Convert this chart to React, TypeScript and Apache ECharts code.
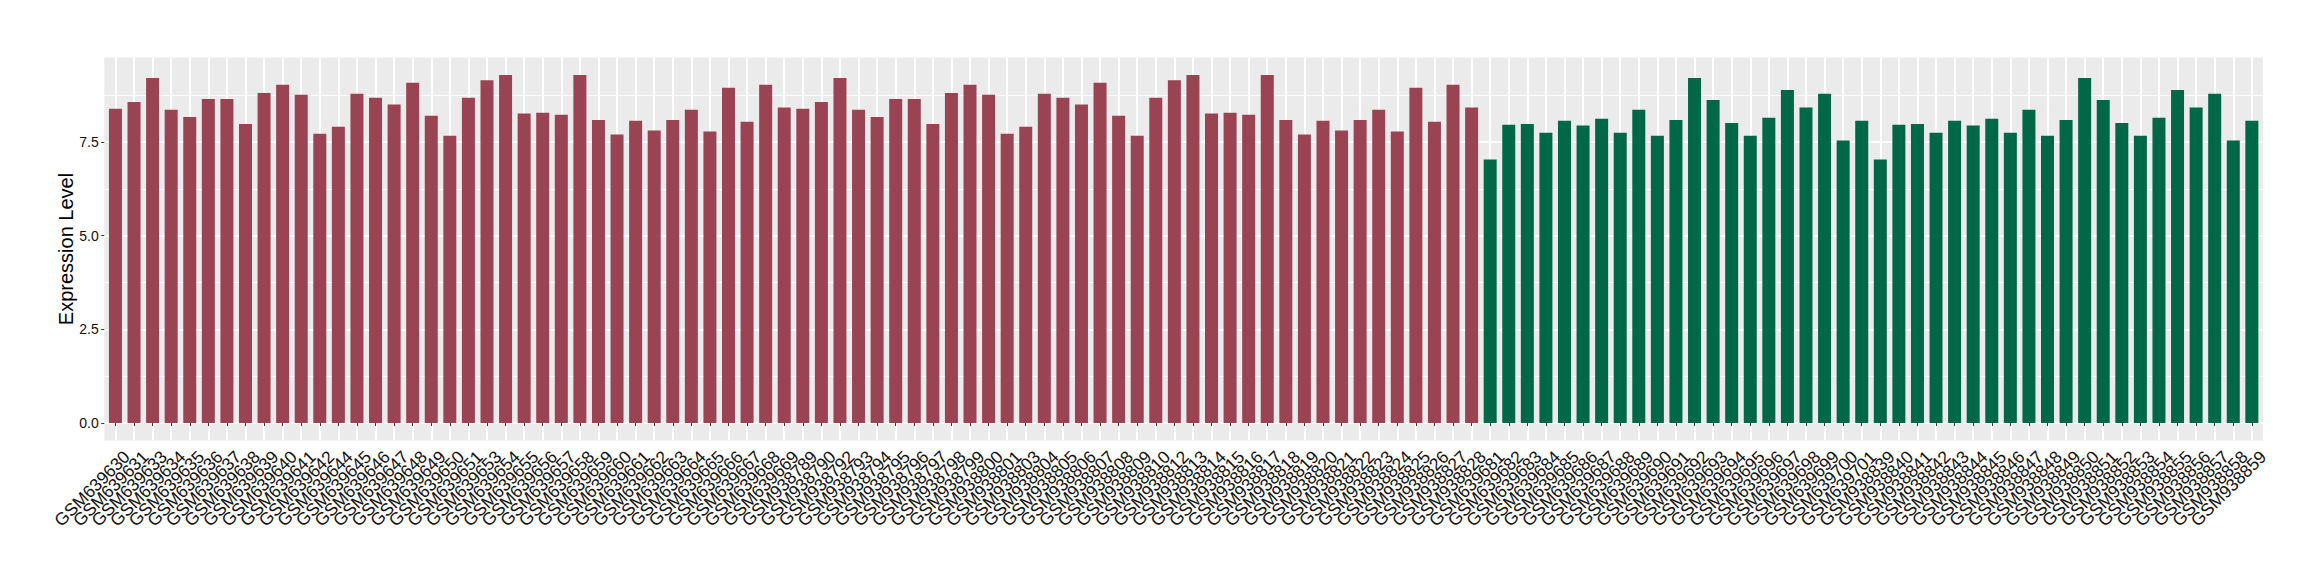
import React, { useEffect, useRef } from "react";
import * as echarts from "echarts";

// ---- data ----
const group1SamplesA = [
  "GSM639630", "GSM639631", "GSM639633", "GSM639634", "GSM639635", "GSM639636", "GSM639637",
  "GSM639638", "GSM639639", "GSM639640", "GSM639641", "GSM639642", "GSM639644", "GSM639645",
  "GSM639646", "GSM639647", "GSM639648", "GSM639649", "GSM639650", "GSM639651", "GSM639653",
  "GSM639654", "GSM639655", "GSM639656", "GSM639657", "GSM639658", "GSM639659", "GSM639660",
  "GSM639661", "GSM639662", "GSM639663", "GSM639664", "GSM639665", "GSM639666", "GSM639667",
  "GSM639668", "GSM639669",
];
const group1ValuesA = [
  8.39, 8.57, 9.21, 8.36, 8.17, 8.65, 8.65, 7.98, 8.81, 9.03, 8.76, 7.72, 7.91, 8.79, 8.68, 8.5,
  9.08, 8.2, 7.67, 8.68, 9.15, 9.29, 8.26, 8.28, 8.23, 9.29, 8.09, 7.7, 8.07, 7.81, 8.09, 8.36,
  7.78, 8.95, 8.04, 9.03, 8.42,
];
const group1SamplesB = [
  "GSM938789", "GSM938790", "GSM938792", "GSM938793", "GSM938794", "GSM938795", "GSM938796",
  "GSM938797", "GSM938798", "GSM938799", "GSM938800", "GSM938801", "GSM938803", "GSM938804",
  "GSM938805", "GSM938806", "GSM938807", "GSM938808", "GSM938809", "GSM938810", "GSM938812",
  "GSM938813", "GSM938814", "GSM938815", "GSM938816", "GSM938817", "GSM938818", "GSM938819",
  "GSM938820", "GSM938821", "GSM938822", "GSM938823", "GSM938824", "GSM938825", "GSM938826",
  "GSM938827", "GSM938828",
];
const group1ValuesB = [
  8.39, 8.57, 9.21, 8.36, 8.17, 8.65, 8.65, 7.98, 8.81, 9.03, 8.76, 7.72, 7.91, 8.79, 8.68, 8.5,
  9.08, 8.2, 7.67, 8.68, 9.15, 9.29, 8.26, 8.28, 8.23, 9.29, 8.09, 7.7, 8.07, 7.81, 8.09, 8.36,
  7.78, 8.95, 8.04, 9.03, 8.42,
];
const group2SamplesA = [
  "GSM639681", "GSM639682", "GSM639683", "GSM639684", "GSM639685", "GSM639686", "GSM639687",
  "GSM639688", "GSM639689", "GSM639690", "GSM639691", "GSM639692", "GSM639693", "GSM639694",
  "GSM639695", "GSM639696", "GSM639697", "GSM639698", "GSM639699", "GSM639700", "GSM639701",
];
const group2ValuesA = [
  7.03, 7.96, 7.98, 7.75, 8.07, 7.94, 8.12, 7.75, 8.36, 7.67, 8.09, 9.21, 8.62, 8.01, 7.67, 8.15,
  8.89, 8.42, 8.79, 7.54, 8.07,
];
const group2SamplesB = [
  "GSM938839", "GSM938840", "GSM938841", "GSM938842", "GSM938843", "GSM938844", "GSM938845",
  "GSM938846", "GSM938847", "GSM938848", "GSM938849", "GSM938850", "GSM938851", "GSM938852",
  "GSM938853", "GSM938854", "GSM938855", "GSM938856", "GSM938857", "GSM938858", "GSM938859",
];
const group2ValuesB = [
  7.03, 7.96, 7.98, 7.75, 8.07, 7.94, 8.12, 7.75, 8.36, 7.67, 8.09, 9.21, 8.62, 8.01, 7.67, 8.15,
  8.89, 8.42, 8.79, 7.54, 8.07,
];
const yTickValues = [0, 2.5, 5, 7.5];
const yTitle = "Expression Level";

const COLOR1 = "#9A4352";
const COLOR2 = "#006846";
const FONT = '"Liberation Sans", Arial, Helvetica, sans-serif';
const TEXT = "#111111";

export default function App() {
  const ref = useRef<HTMLDivElement>(null);

  useEffect(() => {
    document.body.style.margin = "0";
    if (!ref.current) return;
    const chart = echarts.init(ref.current, undefined, { renderer: "svg" });

    const categories = [...group1SamplesA, ...group1SamplesB, ...group2SamplesA, ...group2SamplesB];
    const data = [
      ...group1ValuesA.map((v) => ({ value: v, itemStyle: { color: COLOR1 } })),
      ...group1ValuesB.map((v) => ({ value: v, itemStyle: { color: COLOR1 } })),
      ...group2ValuesA.map((v) => ({ value: v, itemStyle: { color: COLOR2 } })),
      ...group2ValuesB.map((v) => ({ value: v, itemStyle: { color: COLOR2 } })),
    ];
    const n = categories.length;

    // layout (ggplot-like panel)
    const panelLeft = 104.3;
    const panelRight = 2263;
    const panelTop = 57.5;
    const panelBottom = 440.5;
    const panelW = panelRight - panelLeft;
    const panelH = panelBottom - panelTop;
    const step = panelW / (n + 0.2);
    const dataMax = Math.max(...data.map((d) => d.value));
    const yLo = -0.05 * dataMax;
    const yHi = 1.05 * dataMax;
    const pxPerUnit = panelH / (yHi - yLo);
    const yZero = panelBottom + yLo * pxPerUnit;
    const tickMax = yTickValues[yTickValues.length - 1];
    const gridLineMax = tickMax + 2.5;

    const hiddenValue = (gridIndex: number) => ({
      type: "value",
      gridIndex,
      show: false,
      min: 0,
      max: 1,
    });

    chart.setOption({
      animation: false,
      backgroundColor: "#ffffff",
      grid: [
        // 0: panel background
        {
          left: panelLeft, top: panelTop, width: panelW, height: panelH,
          show: true, backgroundColor: "#EBEBEB", borderWidth: 0,
        },
        // 1: horizontal grid lines
        {
          left: panelLeft, width: panelW,
          top: yZero - gridLineMax * pxPerUnit, height: gridLineMax * pxPerUnit,
        },
        // 2: vertical grid lines (at category centres)
        {
          left: panelLeft + 0.6 * step, width: (n - 1) * step,
          top: panelTop, height: panelH,
        },
        // 3: bars
        {
          left: panelLeft + 0.1 * step, width: n * step,
          top: panelTop, height: panelH,
        },
        // 4: y tick labels
        {
          left: panelLeft, width: panelW,
          top: yZero - tickMax * pxPerUnit, height: tickMax * pxPerUnit,
        },
      ],
      xAxis: [
        hiddenValue(0),
        hiddenValue(1),
        {
          type: "category", gridIndex: 2, data: categories, boundaryGap: false,
          axisLine: { show: false }, axisTick: { show: false }, axisLabel: { show: false },
          splitLine: { show: true, interval: 0, lineStyle: { color: "#ffffff", width: 2 } },
        },
        {
          type: "category", gridIndex: 3, data: categories, boundaryGap: true,
          axisLine: { show: false },
          axisTick: {
            show: true, alignWithLabel: true, interval: 0, length: 3,
            lineStyle: { color: "#333333", width: 1 },
          },
          axisLabel: {
            show: true, interval: 0, rotate: 45, margin: 2,
            verticalAlign: "top", lineHeight: 32,
            fontFamily: FONT, fontSize: 17.5, color: TEXT,
          },
          splitLine: { show: false },
        },
        hiddenValue(4),
      ],
      yAxis: [
        hiddenValue(0),
        {
          type: "value", gridIndex: 1, min: 0, max: gridLineMax, interval: 2.5,
          axisLine: { show: false }, axisTick: { show: false }, axisLabel: { show: false },
          minorTick: { show: false, splitNumber: 2 },
          splitLine: { show: true, lineStyle: { color: "#ffffff", width: 2 } },
          minorSplitLine: { show: true, lineStyle: { color: "#ffffff", width: 1 } },
        },
        hiddenValue(2),
        {
          type: "value", gridIndex: 3, min: yLo, max: yHi,
          axisLine: { show: false }, axisTick: { show: false }, axisLabel: { show: false },
          splitLine: { show: false },
          name: yTitle, nameLocation: "middle", nameGap: 30,
          nameTextStyle: { fontFamily: FONT, fontSize: 20, color: "#000000" },
        },
        {
          type: "value", gridIndex: 4, min: 0, max: tickMax, interval: 2.5,
          axisLine: { show: false },
          axisTick: { show: true, length: 3, lineStyle: { color: "#333333", width: 1 } },
          axisLabel: {
            show: true, margin: 5.5, fontFamily: FONT, fontSize: 14, color: TEXT,
            formatter: (v: number) => v.toFixed(1),
          },
          splitLine: { show: false },
        },
      ],
      series: [
        {
          type: "bar",
          xAxisIndex: 3,
          yAxisIndex: 3,
          data,
          barWidth: "70%",
          z: 5,
        },
      ],
    });

    return () => chart.dispose();
  }, []);

  return <div ref={ref} style={{ width: 2320, height: 580 }} />;
}
